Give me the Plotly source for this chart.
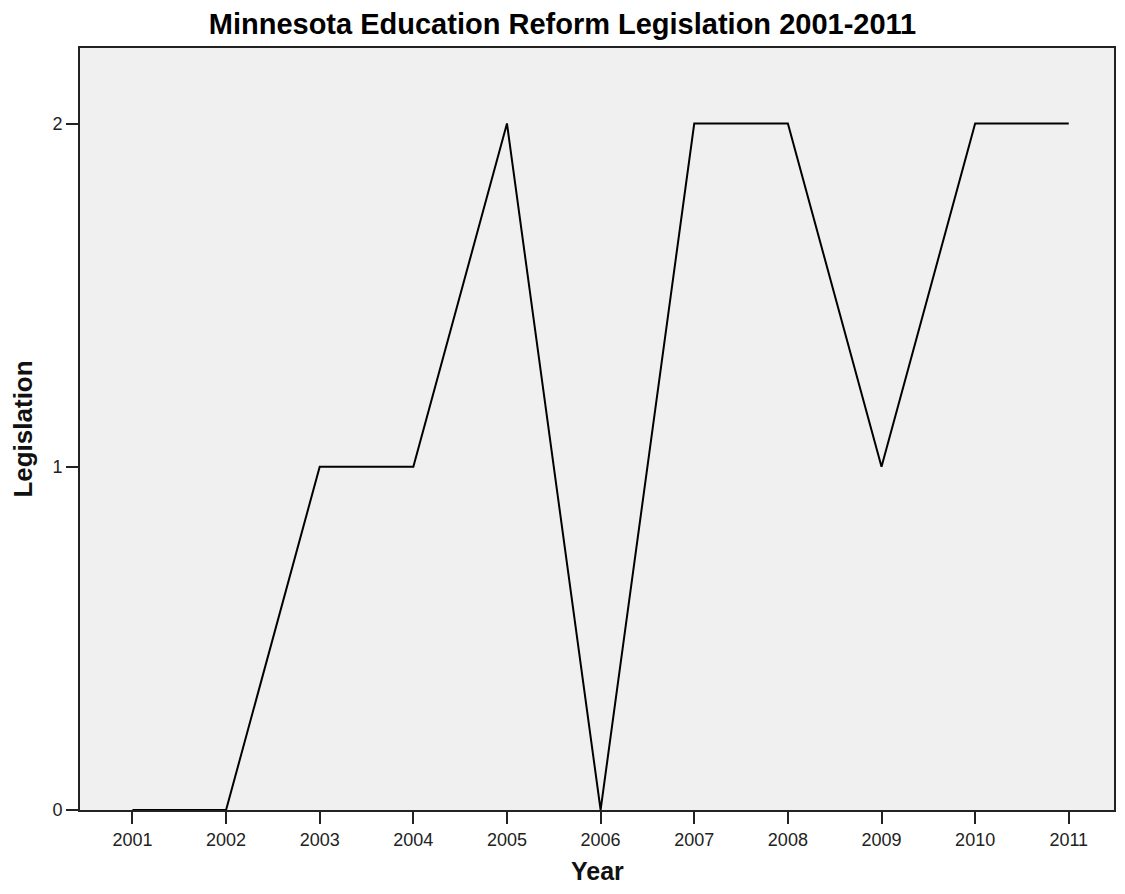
import plotly.graph_objects as go

years = [2001, 2002, 2003, 2004, 2005, 2006, 2007, 2008, 2009, 2010, 2011]
legislation = [0, 0, 1, 1, 2, 0, 2, 2, 1, 2, 2]
y_ticks = [0, 1, 2]

fig = go.Figure()
fig.add_trace(go.Scatter(
    x=years,
    y=legislation,
    mode="lines",
    line=dict(color="black", width=2),
    showlegend=False,
))

# page body keeps its 8px margin, so the figure is sized to fit inside it
fig.update_layout(
    width=1109,
    height=878,
    margin=dict(l=72, r=1, t=40, b=76),
    paper_bgcolor="white",
    plot_bgcolor="#f0f0f0",
    font=dict(family="Liberation Sans, Arial", size=18, color="#222"),
    title=dict(
        text="<b>Minnesota Education Reform Legislation 2001-2011</b>",
        x=0.5, xanchor="center", y=0.982, yanchor="middle",
        font=dict(size=29, color="black"),
    ),
)

fig.update_xaxes(
    range=[2000.44, 2011.483],
    tickvals=years,
    ticktext=[str(y) for y in years],
    ticks="outside", ticklen=12, tickwidth=2, tickcolor="#222",
    showline=True, linecolor="#222", linewidth=2, mirror=True,
    showgrid=False, zeroline=False,
)
fig.update_yaxes(
    range=[0, 2.22],
    tickvals=y_ticks,
    ticks="outside", ticklen=12, tickwidth=2, tickcolor="#222",
    showline=True, linecolor="#222", linewidth=2, mirror=True,
    showgrid=False, zeroline=False,
    title=dict(text="<b>Legislation</b>", font=dict(size=26, color="#111"), standoff=20),
)

# x title placed by hand so the plot area keeps its size
fig.add_annotation(
    text="<b>Year</b>", xref="paper", yref="paper",
    x=0.5, y=-0.08, xanchor="center", yanchor="middle",
    showarrow=False, font=dict(size=25, color="#111"),
)

fig.write_html("out.html")
